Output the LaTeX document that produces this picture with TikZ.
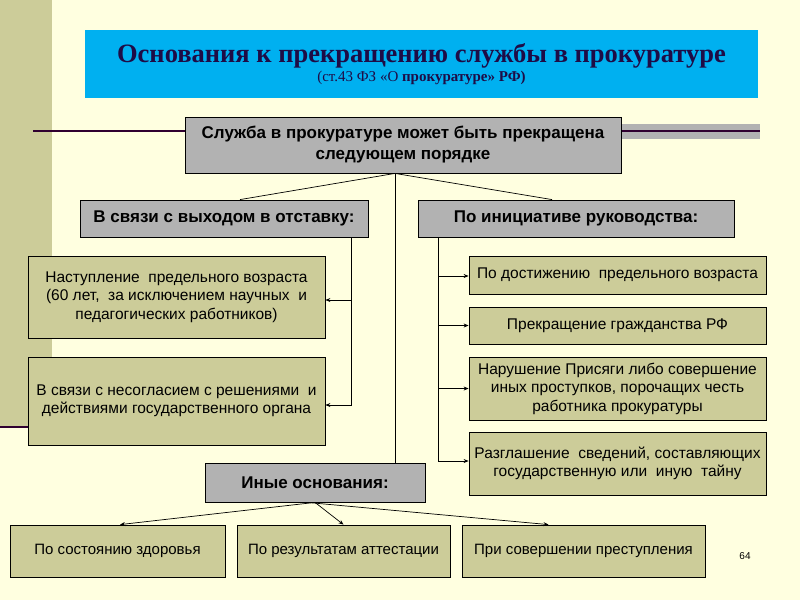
\documentclass[tikz,border=0pt]{standalone}
\usepackage{fontspec}
\setmainfont{Liberation Sans}
\newfontfamily\titlefont{Liberation Serif}
\usetikzlibrary{arrows.meta,calc}
\definecolor{bgyel}{RGB}{255,255,224}
\definecolor{khaki}{RGB}{204,204,153}
\definecolor{grayfill}{RGB}{178,178,178}
\definecolor{titleblue}{RGB}{0,176,240}
\definecolor{navy}{RGB}{30,12,70}
\definecolor{purp}{RGB}{48,0,48}
\tikzset{
  box/.style={draw=black, line width=0.8pt, inner sep=0pt, align=center, font=\fontsize{15.5}{18.5}\selectfont},
  graybox/.style={box, fill=grayfill, font=\fontsize{17}{21}\selectfont\bfseries},
  khakibox/.style={box, fill=khaki},
  conn/.style={draw=black, line width=0.7pt},
  arr/.style={conn, -{Stealth[length=5pt,width=4pt]}},
}
\begin{document}
\begin{tikzpicture}[x=1pt,y=-1pt]
\useasboundingbox (0,0) rectangle (800,600);
\fill[bgyel] (0,0) rectangle (800,600);
% left strip
\fill[khaki] (0,0) rectangle (52,427);
\draw[purp, line width=2.5pt] (0,427) -- (30,427);
% top decorative lines
\draw[purp, line width=2pt] (33,131) -- (187,131);
\fill[grayfill] (620,124) rectangle (760,139);
\draw[purp, line width=2pt] (620,131) -- (760,131);
% title
\node[fill=titleblue, minimum width=673pt, minimum height=68pt, inner sep=0pt, align=center, text=navy, font=\titlefont] (title) at (421.5,64)
  {{\titlefont\fontsize{26.5}{29}\selectfont\bfseries Основания к прекращению службы в прокуратуре}\\[2pt]
   {\titlefont\fontsize{15}{17}\selectfont (ст.43 ФЗ «О \textbf{прокуратуре» РФ)}}};
% top box
\node[graybox, minimum width=436pt, minimum height=56pt] (top) at (403,145)
  {Служба в прокуратуре может быть прекращена\\следующем порядке};
\node[graybox, minimum width=288pt, minimum height=37pt] (retire) at (224,218.5) {В связи с выходом в отставку:};
\node[graybox, minimum width=316pt, minimum height=37pt] (init) at (576,218.5) {По инициативе руководства:};
% left boxes
\node[khakibox, minimum width=297pt, minimum height=82pt] (age) at (176.5,297)
  {Наступление \ предельного возраста\\(60 лет, \ за исключением научных \ и\\педагогических работников)};
\node[khakibox, minimum width=297pt, minimum height=88pt] (disagree) at (176.5,401)
  {В связи с несогласием с решениями \ и\\действиями государственного органа};
% right boxes
\node[khakibox, minimum width=297pt, minimum height=38pt] (r1) at (617.5,275) {По достижению \ предельного возраста};
\node[khakibox, minimum width=297pt, minimum height=37pt] (r2) at (617.5,325.5) {Прекращение гражданства РФ};
\node[khakibox, minimum width=297pt, minimum height=63pt] (r3) at (617.5,388.5)
  {Нарушение Присяги либо совершение\\иных проступков, порочащих честь\\работника прокуратуры};
\node[khakibox, minimum width=297pt, minimum height=63pt] (r4) at (617.5,463.5)
  {Разглашение \ сведений, составляющих\\государственную или \ иную \ тайну};
% other
\node[graybox, minimum width=220pt, minimum height=39pt] (other) at (315,482.5) {Иные основания:};
\node[khakibox, minimum width=215pt, minimum height=52pt, font=\fontsize{15}{18}\selectfont] (b1) at (117.5,551) {По состоянию здоровья};
\node[khakibox, minimum width=213pt, minimum height=52pt, font=\fontsize{15}{18}\selectfont] (b2) at (343.5,551) {По результатам аттестации};
\node[khakibox, minimum width=243pt, minimum height=52pt, font=\fontsize{15}{18}\selectfont] (b3) at (583.5,551) {При совершении преступления};
\node[font=\fontsize{10}{12}\selectfont] (pg) at (745,556) {64};
% connectors
\coordinate (apex) at ([xshift=-8pt]top.south);
\draw[conn] (apex) -- ([xshift=16pt]retire.north);
\draw[conn] (apex) -- ([xshift=-24pt]init.north);
\draw[conn] (apex) -- (apex |- other.north);
\coordinate (lb) at ([xshift=127pt]retire.south);
\draw[arr] (lb) |- ([yshift=-3pt]age.east);
\draw[arr] (lb) |- ([yshift=-4pt]disagree.east);
\coordinate (rb) at ([xshift=-138pt]init.south);
\draw[arr] (rb) |- ([yshift=-1pt]r1.west);
\draw[arr] (rb) |- (r2.west);
\draw[conn] (rb) -- ([yshift=2.5pt]rb |- r4.west);
\draw[arr] (rb |- r3.west) -- (r3.west);
\draw[arr] ([yshift=2.5pt]rb |- r4.west) -- ([yshift=2.5pt]r4.west);
\draw[arr] (other.south) -- ([xshift=2.5pt]b1.north);
\draw[arr] ([xshift=-8pt]other.south) -- ([xshift=-35pt]b3.north);
\draw[arr] (other.south) -- (b2.north);
\end{tikzpicture}
\end{document}
